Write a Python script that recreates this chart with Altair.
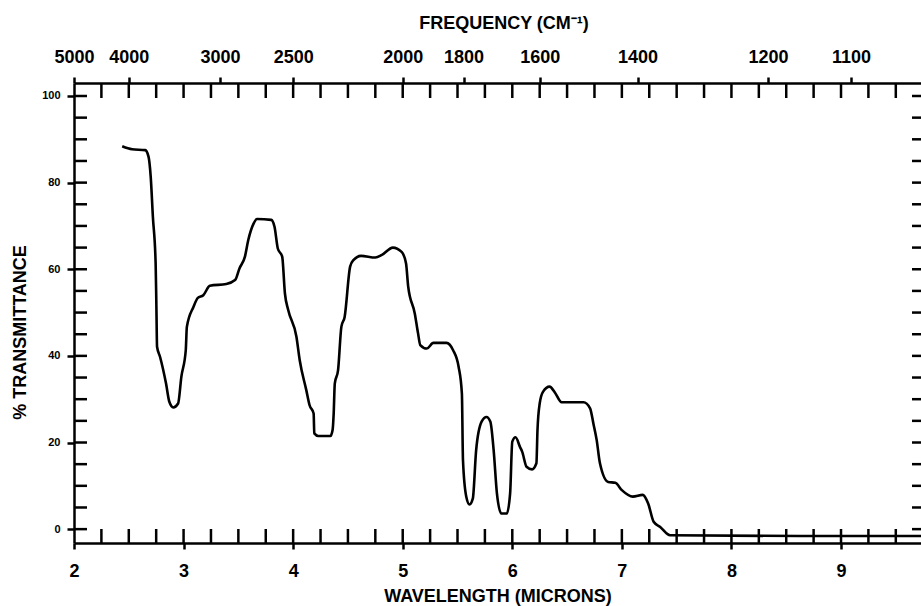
import altair as alt
import pandas as pd

# Infrared transmittance trace: wavelength (microns) vs % transmittance
wavelength = [
    2.44, 2.53, 2.65, 2.68, 2.70, 2.72, 2.745, 2.752, 2.758, 2.785,
    2.84, 2.87, 2.906, 2.95, 2.98, 3.02, 3.03, 3.09, 3.13, 3.18,
    3.24, 3.39, 3.47, 3.51, 3.56, 3.59, 3.64, 3.67, 3.80, 3.83,
    3.86, 3.90, 3.925, 3.955, 4.03, 4.06, 4.12, 4.15, 4.187, 4.193,
    4.23, 4.34, 4.36, 4.37, 4.38, 4.41, 4.44, 4.47, 4.52, 4.55,
    4.62, 4.75, 4.81, 4.91, 4.99, 5.03, 5.05, 5.11, 5.14, 5.16,
    5.22, 5.28, 5.40, 5.46, 5.51, 5.54, 5.55, 5.58, 5.61, 5.64,
    5.67, 5.72, 5.765, 5.80, 5.83, 5.86, 5.90, 5.95, 5.98, 6.00,
    6.03, 6.07, 6.09, 6.13, 6.18, 6.22, 6.23, 6.25, 6.28, 6.34,
    6.39, 6.45, 6.65, 6.71, 6.74, 6.77, 6.80, 6.875, 6.94, 7.00,
    7.10, 7.19, 7.24, 7.29, 7.35, 7.44, 8.62, 9.73,
]
transmittance = [
    88.4, 87.7, 87.5, 86.0, 81.4, 72.1, 61.4, 51.3, 42.1, 39.8,
    33.6, 29.4, 28.1, 29.0, 35.2, 41.3, 46.7, 51.3, 53.4, 54.0,
    56.2, 56.6, 57.5, 60.2, 62.9, 66.7, 70.6, 71.6, 71.4, 69.8,
    64.8, 62.9, 54.4, 50.6, 44.4, 39.0, 32.1, 28.6, 26.7, 22.1,
    21.5, 21.5, 22.9, 26.7, 33.6, 36.7, 46.7, 49.0, 60.6, 62.1,
    63.1, 62.7, 63.3, 65.0, 64.0, 61.4, 56.0, 49.8, 45.2, 42.5,
    41.7, 43.0, 43.0, 41.3, 37.5, 31.3, 15.9, 7.5, 5.7, 7.1,
    18.2, 24.8, 25.9, 24.8, 18.2, 8.2, 3.6, 3.6, 8.2, 20.2,
    21.2, 19.0, 17.9, 14.4, 13.8, 15.2, 22.9, 29.0, 31.7, 32.9,
    31.5, 29.3, 29.3, 27.9, 24.4, 20.6, 15.2, 10.9, 10.7, 9.0,
    7.5, 7.9, 5.9, 1.7, 0.5, -1.4, -1.6, -1.6,
]

# Axis labelling
micron_labels = [2, 3, 4, 5, 6, 7, 8, 9]
frequency_labels = [5000, 4000, 3000, 2500, 2000, 1800, 1600, 1400, 1200, 1100]
percent_labels = [0, 20, 40, 60, 80, 100]
micron_minor = [2 + 0.25 * i for i in range(1, 31)]
percent_minor = [5 * i for i in range(0, 21)]

W, H = 847, 460
FONT = "Liberation Sans"
INK = "black"

curve = pd.DataFrame({"wl": wavelength, "T": transmittance, "i": range(len(wavelength))})
freq_pos = [10000 / f for f in frequency_labels]

xs = alt.Scale(domain=[2, 9.73], nice=False, zero=False)
ys = alt.Scale(domain=[-3.2, 103], nice=False, zero=False)

common = dict(
    domainColor=INK, domainWidth=2.5, tickColor=INK, tickWidth=2.5,
    labelColor=INK, titleColor=INK, labelFont=FONT, titleFont=FONT,
    labelFontWeight="bold", titleFontWeight="bold", grid=False,
    labelOverlap=False, labelFlush=False, titleBaseline="alphabetic",
    titleAlign="center",
)

bottom_axis = alt.Axis(
    values=micron_labels, orient="bottom", tickSize=6, labelFontSize=18,
    labelPadding=13, title="WAVELENGTH (MICRONS)", titleFontSize=18,
    titleX=W / 2, titleY=58, **common,
)
top_axis = alt.Axis(
    values=freq_pos, orient="top", tickSize=6, labelFontSize=18,
    labelPadding=11, labelExpr="format(10000 / datum.value, '.0f')",
    title="FREQUENCY (CM⁻¹)", titleFontSize=18, titleX=W / 2 + 6,
    titleY=-55, **common,
)
left_axis = alt.Axis(
    values=percent_labels, orient="left", tickSize=7, labelFontSize=11,
    labelPadding=7, title="% TRANSMITTANCE", titleFontSize=18,
    titleAngle=270, titleX=-49, titleY=249, **common,
)

line = alt.Chart(curve).mark_line(
    color=INK, strokeWidth=2.6, strokeJoin="round", interpolate="monotone"
).encode(
    x=alt.X("wl:Q", scale=xs, axis=bottom_axis),
    y=alt.Y("T:Q", scale=ys, axis=left_axis),
    order="i:Q",
)

minor_x = pd.DataFrame({"p": micron_minor})
minor_y = pd.DataFrame({"v": percent_minor})

# inward ticks along the top edge; this layer also carries the frequency axis
top_ticks = alt.Chart(minor_x).mark_rule(color=INK, strokeWidth=2.5).encode(
    x=alt.X("p:Q", scale=xs, axis=top_axis),
    y=alt.value(0), y2=alt.value(15),
)
bottom_ticks = alt.Chart(minor_x).mark_rule(color=INK, strokeWidth=2.5).encode(
    x=alt.X("p:Q", scale=xs, axis=None),
    y=alt.value(H), y2=alt.value(H - 14),
)
left_ticks = alt.Chart(minor_y).mark_rule(color=INK, strokeWidth=2.5).encode(
    y=alt.Y("v:Q", scale=ys, axis=None),
    x=alt.value(0), x2=alt.value(13),
)
right_ticks = alt.Chart(minor_y).mark_rule(color=INK, strokeWidth=2.5).encode(
    y=alt.Y("v:Q", scale=ys, axis=None),
    x=alt.value(W), x2=alt.value(W - 9),
)

chart = (
    alt.layer(bottom_ticks, top_ticks, left_ticks, right_ticks, line)
    .resolve_axis(x="independent", y="independent")
    .properties(
        width=W, height=H,
        autosize=alt.AutoSizeParams(type="none"),
        padding={"left": 74, "top": 83, "right": 0, "bottom": 63},
        background="white",
    )
    .configure_view(stroke=None)
)

chart.save("out.html", embed_options={"renderer": "svg", "actions": False})
